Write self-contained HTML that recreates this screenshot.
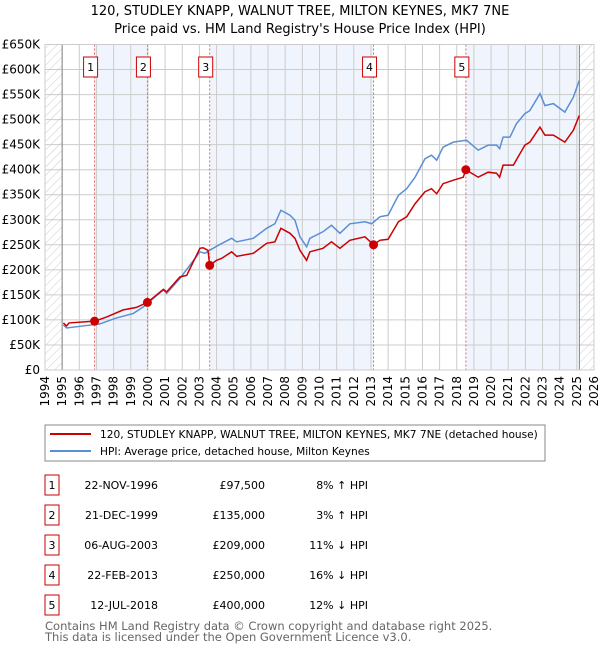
<!DOCTYPE html>
<html><head><meta charset="utf-8"><style>
body{margin:0;background:#fff;font-family:"DejaVu Sans","Liberation Sans",sans-serif;}
svg text{font-family:"DejaVu Sans","Liberation Sans",sans-serif;}
</style></head><body>
<svg id="c" width="600" height="650" xmlns="http://www.w3.org/2000/svg">
<defs><pattern id="h" width="6" height="6" patternUnits="userSpaceOnUse" patternTransform="rotate(45)"><line x1="0" y1="0" x2="0" y2="6" stroke="#ccc" stroke-width="1"/></pattern></defs>
<text x="300" y="15" text-anchor="middle" font-size="13">120, STUDLEY KNAPP, WALNUT TREE, MILTON KEYNES, MK7 7NE</text>
<text x="300" y="33" text-anchor="middle" font-size="13">Price paid vs. HM Land Registry's House Price Index (HPI)</text>
<g id="plot"></g>
<rect x="45" y="425" width="500" height="36" fill="#fff" stroke="#888"/>
<line x1="50" y1="434" x2="91" y2="434" stroke="#cc0000" stroke-width="2"/>
<text x="100" y="438" font-size="10.6">120, STUDLEY KNAPP, WALNUT TREE, MILTON KEYNES, MK7 7NE (detached house)</text>
<line x1="50" y1="451" x2="91" y2="451" stroke="#5b8fd4" stroke-width="2"/>
<text x="100" y="455" font-size="10.6">HPI: Average price, detached house, Milton Keynes</text>
<g id="tbl" font-size="11"></g>
<text x="45" y="630" font-size="11.5" fill="#666">Contains HM Land Registry data © Crown copyright and database right 2025.</text>
<text x="45" y="641" font-size="11.5" fill="#666">This data is licensed under the Open Government Licence v3.0.</text>
</svg>
<script>
const hpiYears=[1995.07,1995.26,1996.23,1997.2,1998.08,1999.15,1999.73,2000.9,2001.09,2001.87,2003.03,2003.32,2003.6,2004.1,2004.88,2005.17,2006.14,2006.92,2007.4,2007.75,2008.28,2008.57,2008.86,2009.25,2009.44,2010.2,2010.7,2011.19,2011.77,2012.65,2013.04,2013.52,2014.0,2014.6,2015.08,2015.57,2016.15,2016.53,2016.83,2017.2,2017.8,2018.57,2019.25,2019.83,2020.32,2020.5,2020.7,2021.1,2021.48,2021.97,2022.26,2022.85,2023.14,2023.63,2024.3,2024.8,2025.14];
const hpiValues=[90,84,88,92,103,113,126,160,153,183,236,233,239,249,263,256,263,283,292,319,309,299,266,246,263,276,289,273,292,296,292,306,309,349,362,385,422,429,419,445,455,459,439,449,449,442,465,465,492,512,518,552,528,532,515,545,578];
const propYears=[1995.07,1995.26,1995.4,1996.9,1997.6,1998.56,1999.33,1999.97,2000.9,2001.09,2001.87,2002.26,2003.03,2003.22,2003.5,2003.6,2004.0,2004.3,2004.88,2005.17,2006.14,2006.92,2007.4,2007.75,2008.28,2008.57,2008.86,2009.25,2009.44,2010.2,2010.7,2011.19,2011.77,2012.65,2013.15,2013.52,2014.0,2014.6,2015.08,2015.57,2016.15,2016.53,2016.83,2017.2,2017.8,2018.38,2018.53,2019.25,2019.83,2020.32,2020.5,2020.7,2021.3,2021.97,2022.26,2022.85,2023.14,2023.63,2024.3,2024.8,2025.14];
const propValues=[94,88,94,97.5,106,120,125,135,161,156,186,189,243,244,239,209,219,223,236,227,233,253,256,283,273,263,239,219,236,243,256,243,259,266,250,259,261,296,306,332,356,362,352,372,379,385,400,385,395,393,385,409,409,449,455,485,469,469,455,479,508];
const saleYears=[1996.89,1999.97,2003.6,2013.15,2018.53];
const saleValues=[97.5,135,209,250,400];
const saleLabels=["1","2","3","4","5"];
const saleDates=["22-NOV-1996","21-DEC-1999","06-AUG-2003","22-FEB-2013","12-JUL-2018"];
const salePrices=["£97,500","£135,000","£209,000","£250,000","£400,000"];
const saleHpi=["8% ↑ HPI","3% ↑ HPI","11% ↓ HPI","16% ↓ HPI","12% ↓ HPI"];
const yTicks=[0,50,100,150,200,250,300,350,400,450,500,550,600,650];
const xTicks=[1994,1995,1996,1997,1998,1999,2000,2001,2002,2003,2004,2005,2006,2007,2008,2009,2010,2011,2012,2013,2014,2015,2016,2017,2018,2019,2020,2021,2022,2023,2024,2025,2026];
const X0=45,X1=594,Y0=370,Y1=44.5;
const xs=y=>X0+(y-1994)/(2026-1994)*(X1-X0);
const ys=v=>Y0-v/650*(Y0-Y1);
const NS="http://www.w3.org/2000/svg";
const plot=document.getElementById('plot');
function mk(t,a,p){const e=document.createElementNS(NS,t);for(const k in a)e.setAttribute(k,a[k]);(p||plot).appendChild(e);return e;}
let e;
e=mk('rect',{x:X0,y:Y1,width:X1-X0,height:Y0-Y1,fill:'#fff'});


for(let i=0;i<saleYears.length;i+=2){
  const end=i+1<saleYears.length?saleYears[i+1]:2025.15;
  e=mk('rect',{x:xs(saleYears[i]),y:Y1,width:xs(end)-xs(saleYears[i]),height:Y0-Y1,fill:'#f0f5fd'});
  
  
}
e=mk('rect',{x:X0,y:Y1,width:xs(1995)-X0,height:Y0-Y1,fill:'url(#h)'});


e=mk('rect',{x:xs(2025.15),y:Y1,width:X1-xs(2025.15),height:Y0-Y1,fill:'url(#h)'});


for(const v of yTicks){
  e=mk('line',{x1:X0,x2:X1,y1:ys(v),y2:ys(v),stroke:'#ccc'});
  
  
  e=mk('text',{x:40,y:ys(v)+4,'text-anchor':'end','font-size':12});
  e.textContent=v===0?'£0':'£'+v+'K';
  
  
}
for(const y of xTicks){
  e=mk('line',{x1:xs(y),x2:xs(y),y1:Y1,y2:Y0,stroke:'#ccc'});
  
  
  e=mk('text',{x:0,y:0,'text-anchor':'end','font-size':12,transform:`translate(${xs(y)+4},376) rotate(-90)`});
  e.textContent=y;
  
  
}
e=mk('line',{x1:xs(1995),x2:xs(1995),y1:Y1,y2:Y0,stroke:'#888'});


e=mk('line',{x1:xs(2025.15),x2:xs(2025.15),y1:Y1,y2:Y0,stroke:'#888'});


saleYears.forEach((y,i)=>{
  e=mk('line',{x1:xs(y),x2:xs(y),y1:Y1,y2:Y0,stroke:'#f06060','stroke-dasharray':'2,2'});
  
  
  e=mk('rect',{x:xs(y)-11,y:57,width:14,height:20,fill:'#fff',stroke:'#cc0000'});
  
  
  e=mk('text',{x:xs(y)-4,y:71,'text-anchor':'middle','font-size':11});
  e.textContent=saleLabels[i];
  
  
});
e=mk('polyline',{points:hpiYears.map((y,i)=>xs(y)+','+ys(hpiValues[i])).join(' '),fill:'none',stroke:'#5b8fd4','stroke-width':1.5});


e=mk('polyline',{points:propYears.map((y,i)=>xs(y)+','+ys(propValues[i])).join(' '),fill:'none',stroke:'#cc0000','stroke-width':1.5});


saleYears.forEach((y,i)=>{
  e=mk('circle',{cx:xs(y),cy:ys(saleValues[i]),r:4.5,fill:'#cc0000'});
  
  
});
e=mk('rect',{x:X0,y:Y1,width:X1-X0,height:Y0-Y1,fill:'none',stroke:'#ccc'});


const tbl=document.getElementById('tbl');
saleLabels.forEach((l,i)=>{
  const cy=485+i*30;
  e=mk('rect',{x:45,y:cy-10,width:14,height:20,fill:'#fff',stroke:'#cc0000'},tbl);
  
  
  const cells=[[52,l,'middle','table-row-number'],[158,saleDates[i],'end','table-date'],[265,salePrices[i],'end','table-price'],[368,saleHpi[i],'end','table-hpi-diff']];
  for(const c of cells){
    e=mk('text',{x:c[0],y:cy+4,'text-anchor':c[2]},tbl);
    e.textContent=c[1];
    
    
  }
});
</script>
</body></html>
